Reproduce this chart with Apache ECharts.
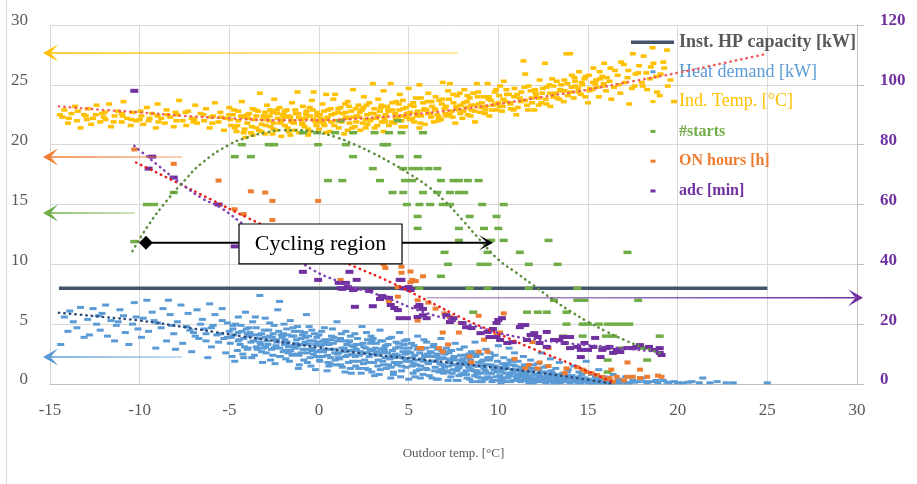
<!DOCTYPE html>
<html><head><meta charset="utf-8">
<script src="https://cdn.jsdelivr.net/npm/echarts@6/dist/echarts.min.js"></script>
<style>html,body{margin:0;padding:0;background:#fff}#c{width:917px;height:484px}</style>
</head><body><div id="c"></div>
<script>
// ---------------- DATA ----------------
const seriesNames = ['Inst. HP capacity [kW]','Heat demand [kW]','Ind. Temp. [°C]','#starts','ON hours [h]','adc [min]'];
const hpCapacity = [[-14.5,8],[25,8]];
const heatDemand = [
[-14.4,3.3],[-14.2,5.6],[-14.0,4.4],[-13.9,6.1],[-13.7,5.2],[-13.5,4.7],[-13.3,6.4],[-13.1,3.9],[-12.9,5.4],[-12.8,4.1],[-12.6,6.3],[-12.4,5.0],[-12.2,4.5],[-12.1,5.9],
[-11.9,6.6],[-11.8,4.0],[-11.6,5.3],[-11.4,3.6],[-11.3,4.9],[-11.1,6.2],[-10.9,5.7],[-10.8,4.3],[-10.6,3.3],[-10.4,5.0],[-10.3,6.8],[-10.1,4.6],
[-9.9,3.9],[-9.8,5.5],[-9.6,7.0],[-9.5,4.4],[-9.3,6.0],[-9.1,3.0],[-9.0,5.1],[-8.8,4.7],[-8.7,6.3],[-8.5,3.6],[-8.4,7.0],[-8.3,5.8],[-8.1,4.2],[-8.0,2.9],
[-7.9,5.2],[-7.7,6.6],[-7.6,3.4],[-7.4,4.8],[-7.3,5.9],[-7.1,2.7],[-7.0,4.3],[-6.8,6.2],[-6.7,3.8],[-6.5,5.4],[-6.4,4.6],[-6.2,2.2],[-6.1,6.7],[-6.0,3.1],
[-5.9,4.9],[-5.8,5.8],[-5.6,3.5],[-5.5,4.2],[-5.4,6.3],[-5.2,2.6],[-5.1,5.1],[-4.9,3.9],[-4.8,4.6],[-4.7,1.9],[-4.5,5.6],[-4.4,3.3],[-4.3,4.4],[-4.1,6.0],[-4.0,2.9],
[-3.9,4.0],[-3.8,3.5],[-3.7,5.2],[-3.6,2.4],[-3.5,4.7],[-3.4,3.8],[-3.3,7.4],[-3.2,4.2],[-3.1,3.0],[-3.0,5.5],[-2.9,3.6],[-2.8,4.5],[-2.7,2.0],[-2.6,3.9],[-2.5,4.9],[-2.4,3.2],[-2.3,6.2],[-2.2,6.9],[-2.1,4.1],[-2.0,2.7],
[-1.9,3.7],[-1.8,4.6],[-1.7,3.1],[-1.6,5.3],[-1.5,2.4],[-1.4,4.0],[-1.3,3.4],[-1.2,4.8],[-1.1,1.6],[-1.0,3.8],[-0.9,2.9],[-0.8,4.3],[-0.7,5.8],[-0.6,3.3],[-0.5,2.2],[-0.4,4.5],[-0.3,3.6],[-0.2,1.2],[-0.1,2.7],[0.0,4.1],
[0.1,3.2],[0.2,2.3],[0.3,4.7],[0.4,3.5],[0.5,1.8],[0.6,2.9],[0.7,4.0],[0.8,3.4],[0.9,2.0],[1.0,5.2],[1.1,2.6],[1.2,3.8],[1.3,1.4],[1.4,3.0],[1.5,4.4],[1.6,2.4],[1.7,3.6],[1.8,0.9],[1.9,2.8],[2.0,4.2],
[2.1,3.3],[2.2,1.9],[2.3,2.7],[2.4,4.8],[2.5,3.1],[2.6,1.3],[2.7,3.7],[2.8,2.3],[2.9,4.0],[3.0,2.9],[3.1,0.7],[3.2,3.4],[3.3,2.0],[3.4,4.5],[3.5,2.6],[3.6,1.6],[3.7,3.2],[3.8,2.2],[3.9,3.8],[4.0,0.5],
[4.1,2.8],[4.2,1.8],[4.3,3.5],[4.4,2.4],[4.5,4.3],[4.6,1.1],[4.7,3.0],[4.8,2.1],[4.9,3.7],[5.0,0.4],[5.1,2.6],[5.2,1.5],[5.3,3.2],[5.4,2.0],[5.5,4.0],[5.6,1.2],[5.7,2.9],[5.8,0.8],[5.9,2.3],[6.0,3.5],
[6.1,1.7],[6.2,2.7],[6.3,0.5],[6.4,3.3],[6.5,1.9],[6.6,2.5],[6.7,1.0],[6.8,3.8],[6.9,2.2],[7.0,1.4],[7.1,3.0],[7.2,0.3],[7.3,2.0],[7.4,2.8],[7.5,1.2],[7.6,3.4],[7.7,1.6],[7.8,0.7],[7.9,2.4],[8.0,1.9],
[8.1,3.1],[8.2,1.1],[8.3,2.2],[8.4,0.4],[8.5,2.7],[8.6,1.5],[8.7,3.5],[8.8,0.9],[8.9,1.8],[9.0,2.5],[9.1,0.2],[9.2,1.3],[9.3,2.9],[9.4,0.6],[9.5,2.0],[9.6,1.6],[9.7,0.3],[9.8,2.4],[9.9,1.0],[10.0,3.2],
[10.1,1.4],[10.2,0.5],[10.3,2.2],[10.4,0.9],[10.5,1.7],[10.6,3.0],[10.7,0.2],[10.8,1.2],[10.9,2.6],[11.0,0.6],[11.1,1.9],[11.2,0.3],[11.3,1.0],[11.4,2.3],[11.5,0.8],[11.6,1.5],[11.7,0.1],[11.8,2.0],[11.9,0.5],[12.0,1.2],
[12.1,0.3],[12.2,1.7],[12.3,0.7],[12.4,2.6],[12.5,0.2],[12.6,1.0],[12.7,1.5],[12.8,0.4],[12.9,2.1],[13.0,0.8],[13.1,0.1],[13.2,1.3],[13.3,0.5],[13.4,1.8],[13.5,0.2],[13.6,0.9],[13.7,3.4],[13.8,0.4],[13.9,1.2],[14.0,0.1],
[14.1,0.7],[14.2,1.5],[14.3,0.3],[14.5,1.0],[14.6,0.1],[14.7,0.5],[14.9,1.9],[15.0,0.2],[15.2,0.8],[15.3,0.1],[15.5,0.4],[15.6,1.2],[15.8,0.2],[15.9,0.6],[16.0,0.1],
[16.2,0.3],[16.4,0.8],[16.5,0.1],[16.7,0.4],[16.9,0.2],[17.1,0.6],[17.3,0.1],[17.5,0.3],[17.8,0.2],[18.0,0.5],[18.3,0.1],[18.6,0.2],[18.9,0.1],[19.2,0.3],[19.5,0.1],[19.8,0.2],
[20.3,0.1],[20.8,0.2],[21.2,0.1],[21.4,0.5],[21.8,0.1],[22.2,0.2],[22.7,0.1],[23.1,0.1],[25.0,0.1],
[-4.95,3.4],[-4.85,2.3],[-4.75,4.1],[-4.65,5.0],[-4.55,2.8],[-4.45,3.7],[-4.35,4.9],[-4.25,2.5],[-4.15,3.1],[-4.05,4.6],[-3.95,3.0],[-3.85,4.3],[-3.75,2.2],[-3.65,3.6],[-3.55,5.6],[-3.45,2.9],[-3.35,4.1],[-3.25,3.3],[-3.15,1.8],[-3.05,4.5],
[-2.95,2.6],[-2.85,3.3],[-2.75,5.1],[-2.65,2.9],[-2.55,4.2],[-2.45,1.7],[-2.35,3.5],[-2.25,4.4],[-2.15,2.3],[-2.05,3.9],[-1.95,5.0],[-1.85,2.8],[-1.75,4.1],[-1.65,1.9],[-1.55,3.2],[-1.45,4.7],[-1.35,2.5],[-1.25,3.7],[-1.15,1.3],[-1.05,4.4],
[-0.95,3.3],[-0.85,2.0],[-0.75,3.9],[-0.65,2.6],[-0.55,4.8],[-0.45,1.5],[-0.35,3.0],[-0.25,4.2],[-0.15,2.3],[-0.05,3.5],[0.05,1.9],[0.15,4.4],[0.25,2.7],[0.35,3.7],[0.45,1.1],[0.55,3.3],[0.65,2.2],[0.75,4.6],[0.85,2.9],[0.95,1.6],
[1.05,3.6],[1.15,2.1],[1.25,4.2],[1.35,2.7],[1.45,1.0],[1.55,3.3],[1.65,1.8],[1.75,4.0],[1.85,2.5],[1.95,3.1],[2.05,1.5],[2.15,3.8],[2.25,2.4],[2.35,0.9],[2.45,3.4],[2.55,2.0],[2.65,4.3],[2.75,1.2],[2.85,2.8],[2.95,3.6],
[3.05,1.8],[3.15,3.0],[3.25,2.4],[3.35,0.8],[3.45,3.6],[3.55,1.9],[3.65,2.8],[3.75,1.3],[3.85,3.3],[3.95,2.1],[4.05,3.9],[4.15,1.0],[4.25,2.5],[4.35,1.6],[4.45,3.1],[4.55,0.6],[4.65,2.2],[4.75,3.6],[4.85,1.4],[4.95,2.7],
[5.05,1.9],[5.15,3.4],[5.25,0.9],[5.35,2.4],[5.45,1.6],[5.55,3.0],[5.65,0.5],[5.75,2.1],[5.85,3.7],[5.95,1.3],[6.05,2.5],[6.15,0.7],[6.25,1.9],[6.35,3.1],[6.45,1.1],[6.55,2.3],[6.65,0.4],[6.75,1.7],[6.85,2.8],[6.95,0.9],
[7.05,2.1],[7.15,1.1],[7.25,2.6],[7.35,0.6],[7.45,1.6],[7.55,2.3],[7.65,0.3],[7.75,1.3],[7.85,2.9],[7.95,0.8],[8.05,1.6],[8.15,2.4],[8.25,0.5],[8.35,1.4],[8.45,2.0],[8.55,0.2],[8.65,1.1],[8.75,2.3],[8.85,0.6],[8.95,1.5],
[9.05,0.9],[9.15,2.0],[9.25,0.4],[9.35,1.6],[9.45,0.9],[9.55,2.6],[9.65,0.2],[9.75,1.2],[9.85,0.6],[9.95,1.9],[10.05,0.3],[10.15,1.0],[10.25,1.7],[10.35,0.2],[10.45,1.3],[10.55,0.6],[10.65,2.0],[10.75,0.9],[10.85,0.3],[10.95,1.5],
[11.05,0.4],[11.15,1.2],[11.25,0.2],[11.35,0.7],[11.45,1.6],[11.55,0.3],[11.65,1.0],[11.75,0.5],[11.85,1.3],[11.95,0.1],[12.05,0.8],[12.15,0.3],[12.25,1.2],[12.35,0.2],[12.45,0.6],[12.55,1.4],[12.65,0.1],[12.75,0.7],[12.85,0.3],[12.95,1.1],
[13.05,0.3],[13.25,0.7],[13.45,0.1],[13.65,0.5],[13.85,1.0],[14.05,0.2],[14.25,0.4],[14.45,0.1],[14.65,0.8],[14.85,0.2],[15.05,0.4],[15.25,0.1],[15.45,0.3],[15.65,0.1],[15.85,0.4],[16.05,0.2],[16.3,0.1],[16.6,0.2],[16.8,0.1],[17.0,0.2],
[-1.92,3.3],[-1.72,2.6],[-1.52,4.0],[-1.32,3.0],[-1.12,2.4],[-0.92,4.1],[-0.72,2.9],[-0.52,3.6],[-0.32,2.5],[-0.12,3.9],[0.08,2.8],[0.28,3.3],[0.48,2.4],[0.68,3.7],[0.88,2.6],[1.08,2.2],[1.28,3.0],[1.48,2.3],[1.68,3.5],[1.88,1.9],
[2.08,2.9],[2.28,3.3],[2.48,1.7],[2.68,2.6],[2.88,3.4],[3.08,2.5],[3.28,1.5],[3.48,2.9],[3.68,2.2],[3.88,1.6],[4.08,2.4],[4.28,3.0],[4.48,1.8],[4.68,2.7],[4.88,1.9],[5.08,2.6],[5.28,1.7],[5.48,2.9],[5.68,1.5],[5.88,2.4],
[6.08,1.8],[6.28,2.6],[6.48,1.4],[6.68,2.1],[6.88,1.6],[7.08,1.0],[7.28,1.8],[7.48,2.2],[7.68,1.1],[7.88,1.7],[8.08,0.9],[8.28,1.8],[8.48,1.2],[8.68,0.7],[8.88,1.5],[9.08,1.9],[9.28,1.1],[9.48,0.5],[9.68,1.4],[9.88,1.2],
[10.08,0.7],[10.28,1.2],[10.48,0.5],[10.68,0.9],[10.88,1.1],[11.08,0.8],[11.28,1.4],[11.48,0.5],[11.68,0.7],[11.88,0.3],[12.08,0.5],[12.28,0.9],[12.48,0.4],[12.68,0.6],[12.88,0.8],[13.08,0.6],[13.28,0.3],[13.48,0.5],[13.68,0.2],[13.88,0.5],
[-1.85,2.1],[-0.65,1.8],[0.55,1.5],[1.75,1.3],[2.95,1.0],[4.15,0.8],[5.35,0.6],[6.55,0.4],[7.75,0.3],[8.95,0.2],[10.15,0.1],[3.55,3.6],[4.75,3.3],[5.95,3.0],[7.15,2.7],[8.35,2.5],[9.55,2.2],[10.75,1.9],[11.95,1.6],
[-2.5,3.0],[-3.0,3.9],[-3.5,3.1],[-4.0,4.2],[-4.5,3.6],[-5.0,4.4],[-2.2,2.3],[-3.2,2.7],[-4.2,2.2],[-5.3,3.8],[-6.3,4.2],[-7.2,4.5],[-8.2,4.9],[-9.2,5.3],[-10.2,5.6],[-11.2,5.2],[-12.3,5.7],
[0.02,2.0],[0.22,3.6],[0.42,2.9],[0.62,1.7],[0.82,3.9],[1.02,2.5],[1.22,1.6],[1.42,3.6],[1.62,2.8],[1.82,3.2],[2.02,2.3],[2.22,1.3],[2.42,2.6],[2.62,3.0],[2.82,1.8],[3.02,3.8],[3.22,2.7],[3.42,1.2],[3.62,3.0],[3.82,2.6],
[4.02,1.4],[4.22,2.2],[4.42,3.4],[4.62,1.5],[4.82,2.5],[5.02,3.0],[5.22,2.2],[5.42,1.1],[5.62,2.6],[5.82,1.9],[6.02,1.2],[6.22,2.3],[6.42,1.9],[6.62,2.9],[6.82,1.2],[7.02,2.5],[7.22,1.5],[7.42,0.9],[7.62,2.0],[7.82,1.4],
[8.02,2.1],[8.22,0.8],[8.42,1.7],[8.62,2.5],[8.82,1.1],[9.02,0.5],[9.22,1.6],[9.42,2.2],[9.62,0.9],[9.82,1.5],[10.02,1.1],[10.22,0.4],[10.42,1.5],[10.62,0.7],[10.82,1.6],[11.02,1.1],[11.22,0.6],[11.42,0.9],[11.62,0.3],[11.82,1.0],
[12.02,0.2],[12.22,0.6],[12.42,1.0],[12.62,0.4],[12.82,0.2],[13.02,0.9],[13.22,0.4],[13.42,0.8],[13.62,0.3],[13.82,0.7],[14.02,0.5],[14.22,0.2],[14.42,0.6],[14.62,0.3],[14.82,0.5],[15.02,0.1],[15.22,0.3],[15.42,0.6],[15.62,0.2],[15.82,0.1],
[16.1,0.3],[16.4,0.15],[16.7,0.25],[17.2,0.1],[17.6,0.15],[18.2,0.2],[18.8,0.3],[19.4,0.15],[20.0,0.1],[20.6,0.15],
[-2.98,3.1],[-2.78,4.0],[-2.58,2.4],[-2.38,3.7],[-2.18,3.0],[-1.98,4.2],[-1.78,3.5],[-1.58,2.8],[-1.38,4.4],[-1.18,3.2],[-0.98,2.6],[-0.78,3.5],[-0.58,4.0],[-0.38,2.8],[-0.18,3.3],
[-6.9,4.0],[-6.6,5.0],[-6.3,3.6],[-6.0,4.7],[-5.7,4.1],[-5.4,5.3],[-5.1,3.9],[-4.8,4.9],[-4.5,4.3],[-4.2,3.8],[-3.9,4.7],[-3.6,4.1],[-3.3,3.5]
];
const indoorTemp = [
[-14.3,22.3],[-14.2,22.9],[-14.0,21.8],[-13.8,22.6],[-13.6,23.2],[-13.5,22.0],[-13.3,21.4],[-13.1,22.5],[-12.9,23.0],[-12.7,21.7],[-12.6,22.2],[-12.4,23.3],[-12.2,21.9],[-12.1,22.6],
[-11.9,22.1],[-11.7,23.4],[-11.6,21.5],[-11.4,22.4],[-11.2,22.8],[-11.0,21.9],[-10.9,23.6],[-10.7,22.2],[-10.5,21.6],[-10.4,22.7],[-10.2,22.0],
[-9.9,22.4],[-9.8,21.7],[-9.6,23.1],[-9.5,22.0],[-9.3,22.6],[-9.1,21.4],[-9.0,23.4],[-8.8,22.2],[-8.6,21.8],[-8.5,22.9],[-8.3,22.3],[-8.1,21.5],
[-7.9,22.5],[-7.8,23.7],[-7.6,22.0],[-7.4,21.6],[-7.3,22.8],[-7.1,22.2],[-6.9,23.3],[-6.8,21.8],[-6.6,22.6],[-6.4,22.0],[-6.3,23.0],[-6.1,21.4],
[-5.9,22.4],[-5.8,23.5],[-5.6,21.9],[-5.5,22.7],[-5.3,21.2],[-5.2,22.2],[-5.0,23.1],[-4.9,21.6],[-4.8,22.5],[-4.6,21.1],[-4.5,22.0],[-4.3,23.6],[-4.2,22.3],[-4.1,20.6],[-4.0,21.8],
[-3.9,22.6],[-3.8,21.0],[-3.7,23.0],[-3.6,22.1],[-3.5,21.4],[-3.4,22.8],[-3.3,24.3],[-3.2,21.7],[-3.1,22.4],[-3.0,20.9],[-2.9,23.3],[-2.8,22.0],[-2.7,21.5],[-2.6,22.7],[-2.5,23.8],[-2.4,21.2],[-2.3,22.2],[-2.2,23.1],[-2.1,20.7],[-2.0,22.5],
[-1.9,21.6],[-1.8,22.9],[-1.7,21.1],[-1.6,22.3],[-1.5,23.5],[-1.4,21.8],[-1.3,22.6],[-1.2,24.4],[-1.1,21.0],[-1.0,22.1],[-0.9,23.2],[-0.8,21.5],[-0.7,22.8],[-0.6,20.8],[-0.5,22.4],[-0.4,23.7],[-0.3,24.4],[-0.2,21.9],[-0.1,22.7],[0.0,21.3],
[0.1,22.2],[0.2,23.4],[0.3,21.6],[0.4,24.2],[0.5,22.9],[0.6,21.1],[0.7,22.5],[0.8,23.8],[0.9,24.2],[1.0,22.0],[1.1,21.4],[1.2,23.1],[1.3,22.6],[1.4,20.9],[1.5,22.3],[1.6,23.6],[1.7,21.8],[1.8,22.8],[1.9,24.6],[2.0,21.5],
[2.1,22.4],[2.2,23.3],[2.3,21.2],[2.4,22.9],[2.5,24.0],[2.6,22.1],[2.7,21.7],[2.8,23.5],[2.9,22.6],[3.0,25.1],[3.1,21.4],[3.2,22.2],[3.3,23.8],[3.4,22.8],[3.5,21.9],[3.6,24.5],[3.7,22.5],[3.8,23.2],[3.9,21.6],[4.0,25.1],
[4.1,22.9],[4.2,21.8],[4.3,23.6],[4.4,22.3],[4.5,24.2],[4.6,22.0],[4.7,23.0],[4.8,21.5],[4.9,22.6],[5.0,24.7],[5.1,23.3],[5.2,22.2],[5.3,21.9],[5.4,23.9],[5.5,22.8],[5.6,25.0],[5.7,22.4],[5.8,23.5],[5.9,21.7],[6.0,22.9],
[6.1,24.3],[6.2,22.6],[6.3,23.2],[6.4,21.9],[6.5,24.0],[6.6,22.5],[6.7,23.7],[6.8,22.1],[6.9,25.2],[7.0,23.0],[7.1,22.4],[7.2,24.5],[7.3,25.1],[7.4,22.8],[7.5,23.5],[7.6,21.8],[7.7,24.1],[7.8,22.9],[7.9,23.3],[8.0,22.2],
[8.1,24.6],[8.2,23.1],[8.3,22.5],[8.4,23.9],[8.5,22.9],[8.6,24.3],[8.7,21.9],[8.8,25.1],[8.9,23.4],[9.0,22.7],[9.2,24.0],[9.3,23.2],[9.4,25.1],[9.5,22.4],[9.6,23.7],[9.8,24.4],[9.9,22.9],[10.0,23.5],
[10.1,24.9],[10.2,22.8],[10.3,25.3],[10.4,23.6],[10.6,24.2],[10.7,23.0],[10.9,24.7],[11.0,22.5],[11.2,23.9],[11.4,27.0],[11.5,25.9],[11.6,23.3],[11.8,24.5],[12.0,22.9],
[12.1,24.0],[12.3,25.4],[12.4,23.5],[12.6,26.8],[12.7,24.8],[12.9,23.2],[13.0,25.5],[13.2,24.3],[13.4,23.8],[13.5,25.0],[13.7,24.5],[13.8,27.6],[14.0,27.6],[14.1,25.8],[14.2,23.9],
[14.3,24.9],[14.5,26.1],[14.6,24.2],[14.8,25.5],[15.0,23.5],[15.1,24.7],[15.3,26.4],[15.4,25.1],[15.6,24.0],[15.8,25.7],[15.9,26.8],[16.0,24.5],
[16.2,25.3],[16.3,23.8],[16.5,26.2],[16.7,25.0],[16.8,24.3],[17.0,26.7],[17.2,25.6],[17.3,23.4],[17.5,27.6],[17.6,24.9],[17.8,26.0],[18.0,25.2],[18.1,27.4],[18.3,24.6],[18.5,26.5],[18.6,28.1],[18.8,25.7],[19.0,24.1],[19.2,26.9],[19.4,27.9],[19.6,25.4],[19.8,23.6],
[-4.95,22.1],[-4.75,22.9],[-4.55,21.6],[-4.35,22.4],[-4.15,21.3],[-3.95,22.2],[-3.75,21.5],[-3.55,22.9],[-3.35,21.2],[-3.15,22.1],[-2.95,21.6],[-2.75,22.4],[-2.55,21.3],[-2.35,22.9],[-2.15,21.8],[-1.95,22.3],[-1.75,21.4],[-1.55,22.0],[-1.35,21.2],[-1.15,22.6],
[-0.95,21.7],[-0.75,22.2],[-0.55,21.1],[-0.35,22.9],[-0.15,21.6],[0.05,22.5],[0.25,21.8],[0.45,22.1],[0.65,23.0],[0.85,21.6],[1.05,22.7],[1.25,21.9],[1.45,23.4],[1.65,22.2],[1.85,21.4],[2.05,23.0],[2.25,22.3],[2.45,21.8],[2.65,23.3],[2.85,22.0],
[3.05,22.6],[3.25,21.6],[3.45,23.1],[3.65,22.2],[3.85,22.9],[4.05,21.9],[4.25,22.6],[4.45,23.4],[4.65,22.4],[4.85,23.1],[5.05,22.1],[5.25,23.5],[5.45,22.6],[5.65,21.8],[5.85,22.9],[6.05,23.6],[6.25,22.3],[6.45,23.0],[6.65,22.0],[6.85,23.4],
[7.05,22.6],[7.25,23.8],[7.45,22.3],[7.65,23.2],[7.85,24.3],[8.05,22.8],[8.25,23.6],[8.45,22.4],[8.65,23.3],[8.85,24.0],[9.05,23.1],[9.25,22.6],[9.45,23.8],[9.65,22.9],[9.85,23.4],[10.05,24.1],[10.25,23.2],[10.45,24.6],[10.65,23.5],[10.85,22.9],
[11.05,24.2],[11.25,23.6],[11.45,24.8],[11.65,22.9],[11.85,23.9],[12.05,24.6],[12.25,23.3],[12.45,24.3],[12.65,23.8],[12.85,25.0],[13.05,24.0],[13.25,25.3],[13.45,24.6],[13.65,23.6],[13.85,25.1],[14.05,24.4],[14.25,25.6],[14.45,24.7],[14.65,25.2],[14.85,24.0],
[15.05,25.8],[15.25,24.6],[15.45,25.4],[15.65,26.1],[15.85,24.9],[16.05,25.6],[16.25,26.4],[16.45,24.8],[16.65,25.8],[16.85,26.9],[17.05,25.2],[17.25,26.2],[17.45,24.7],[17.65,25.9],[17.85,26.6],[18.05,24.9],[18.25,26.0],[18.45,25.5],[18.65,26.8],[18.85,24.4],
[19.05,25.9],[19.25,26.4],[19.45,24.9],[-14.45,22.5],[-13.95,22.2],[-13.45,22.8],[-12.95,22.1],[-12.45,22.5],[-11.95,22.7],[-11.45,21.9],[-10.95,22.4],[-10.45,22.1],[-9.95,22.8],[-9.45,22.2],[-8.95,21.9],[-8.45,22.5],[-7.95,22.0],[-7.45,22.7],[-6.95,22.1],[-6.45,22.5],[-5.95,21.8],[-5.45,22.3],
[-2.92,22.3],[-2.72,22.9],[-2.52,21.8],[-2.32,22.6],[-2.12,22.0],[-1.92,22.8],[-1.72,22.4],[-1.52,21.9],[-1.32,22.9],[-1.12,22.3],[-0.92,21.8],[-0.72,22.5],[-0.52,23.1],[-0.32,22.1],[-0.12,22.4],[0.08,21.9],[0.28,22.8],[0.48,22.3],[0.68,21.9],[0.88,22.6],
[1.08,23.0],[1.28,22.1],[1.48,22.7],[1.68,23.2],[1.88,22.3],[2.08,21.9],[2.28,22.7],[2.48,23.1],[2.68,22.5],[2.88,22.1],[3.08,23.0],[3.28,22.4],[3.48,23.3],[3.68,21.9],[3.88,22.8],[4.08,23.5],[4.28,22.2],[4.48,22.9],[4.68,23.7],[4.88,22.3],
[5.08,22.7],[5.28,23.2],[5.48,22.4],[5.68,23.9],[5.88,23.0],[6.08,22.6],[6.28,23.6],[6.48,22.9],[6.68,22.3],[6.88,23.8],[7.08,23.2],[7.28,22.5],[7.48,24.2],[7.68,23.0],[7.88,22.6],[8.08,23.5],[8.28,24.1],[8.48,23.3],[8.68,22.8],[8.88,24.4],
[9.08,23.5],[9.28,22.9],[9.48,24.0],[9.68,23.3],[9.88,24.6],[10.08,23.2],[10.28,23.8],[10.48,24.2],[10.68,23.4],[10.88,24.0],[11.08,23.1],[11.28,24.4],[11.48,23.7],[11.68,24.9],[11.88,23.5],[12.08,24.3],[12.28,23.9],[12.48,24.7],[12.68,23.4],[12.88,24.3],
[13.08,24.9],[13.28,23.9],[13.48,24.5],[13.68,25.4],[13.88,24.1],[14.08,24.8],[14.28,25.3],[14.48,24.4],[14.68,25.0],[14.88,25.7],[15.08,24.5],[15.28,25.2],[15.48,24.8],[15.68,25.5],[15.88,25.1],
[-13.0,22.4],[-12.0,22.3],[-11.0,22.6],[-10.0,22.1],[-9.0,22.4],[-8.0,22.7],[-7.0,21.9],[-6.0,22.3],[-5.0,22.5],[-4.5,22.8],[-4.0,22.5],[-3.5,22.4],[-3.0,22.7],
[-4.7,21.4],[-4.2,21.0],[-3.7,20.8],[-3.2,21.1],[-2.6,20.9],[-1.6,20.8],[-0.6,21.3],[0.4,21.0],[1.6,21.2],[2.6,21.4],[3.6,21.1],[4.6,21.5],[5.6,21.4]
];
const starts = [
[-10.3,11.9],[-9.6,15],[-9.2,15],[-8.1,16],[-4.7,19],[-3.8,19],[-4.3,20],[-2.8,20],[-2.5,20],[-0.05,20],[1.5,20],[3.6,20],[3.8,20],
[-0.9,21],[-0.1,21],[0.9,21],[1.9,21],[3.1,21],[3.9,21],[4.6,21],[5.8,21],[1.2,22],[4.4,22],
[1.9,19],[4.5,19],[5.5,19],
[3.0,18],[4.7,18],[5.2,18],[5.6,18],[6.1,18],[6.6,18],
[0.5,17],[1.3,17],[3.4,17],[4.8,17],[5.2,17],[6.8,17],[7.5,17],[7.8,17],[8.3,17],[8.9,17],
[4.1,16],[4.7,16],[5.8,16],[6.6,16],[7.3,16],[7.8,16],[8.1,16],
[4.9,15],[5.6,15],[6.2,15],[6.9,15],[7.3,15],[9.1,15],[10.3,15],
[5.5,14],[8.4,14],[9.9,14],
[5.5,13],[7.8,13],[9.2,13],[10.0,13],
[7.8,12],[9.6,12],[10.3,12],[12.8,12],
[7.0,11],[9.4,11],[11.2,11],[17.2,11],
[7.2,10],[9.0,10],[9.4,10],[11.7,10],[13.3,10],
[6.8,9],
[5.6,8],[8.4,8],[9.4,8],[11.7,8],[14.4,8],
[13.1,7],[14.4,7],[14.8,7],[17.8,7],
[8.6,6],[11.6,6],[12.2,6],[12.7,6],[13.8,6],
[13.8,5],[14.7,5],[15.0,5],[15.6,5],[16.1,5],[16.5,5],[16.9,5],[17.3,5],
[13.6,4],[14.7,4],[16.0,4],[16.4,4],[19.0,4],
[15.8,3],[16.1,3],[16.9,3],[17.3,3],[18.1,3],
[16.1,2],[18.3,2],[16.1,1]
];
const onHours = [
[-10.3,19.6],[-8.1,18.4],[-5.6,17.0],[-3.8,16.1],[-3.0,16.0],[-2.6,15.3],[-0.05,15.3],[-4.7,14.6],[-4.2,14.2],[-2.6,13.7],
[3.6,10.0],[3.7,9.7],[4.6,9.8],[4.6,9.3],[5.1,9.4],[5.8,9.0],[5.2,8.7],[5.4,8.6],[1.2,8.7],[4.4,8.1],[5.1,8.5],[4.8,8.0],
[4.4,7.3],[5.5,7.0],[3.9,6.9],[6.1,6.8],[6.5,6.3],[7.0,5.9],[7.3,5.6],[5.5,5.3],[8.9,5.7],[10.3,5.9],[7.9,5.1],
[6.9,4.3],[7.8,4.3],[9.2,3.7],[9.9,4.1],[10.1,4.3],[5.7,3.0],[6.7,3.0],[7.2,3.3],[8.9,2.7],[9.4,2.7],[8.4,2.3],[8.5,1.8],
[10.9,2.1],[11.7,1.6],[11.5,1.3],[12.2,1.3],[12.3,1.8],[12.8,1.5],[11.9,3.5],[12.8,3.0],[13.8,1.3],[13.7,0.9],
[14.4,1.4],[14.7,1.2],[14.9,1.0],[15.2,0.9],[15.5,0.75],[15.8,0.6],[16.2,0.5],[16.0,0.4],[16.4,0.2],[16.6,0.6],[17.0,0.3],
[17.2,0.6],[17.2,1.8],[17.9,1.2],[17.5,0.6],[17.9,0.5],[18.3,0.6],[18.9,0.7],[19.1,0.6],[16.3,1.2],[5.6,3.0],[6.9,2.7]
];
const adcMin = [
[-10.3,98],[-9.3,76],[-9.5,72],[-8.1,69],[-5.6,60],[-4.7,46],[-0.9,37.5],[-0.05,34.8],[1.1,33.8],[1.7,37.5],[2.1,34.8],[4.6,34.8],[5.0,32.4],
[1.5,33.8],[1.6,32.4],[2.0,31.8],[1.3,31.8],[2.8,31.1],[4.5,34.8],[4.7,32],[5.1,31.4],[3.6,29],[3.9,28.8],[3.4,28.4],[2.0,25.8],
[4.0,26.4],[4.2,25.4],[4.4,24.7],[5.5,25.8],[5.6,26.4],[5.8,25.1],[4.9,22],[4.5,22],[5.5,22.4],[5.8,23],[6.0,22],[7.1,23],[7.5,22],
[7.3,20.7],[8.0,20.4],[8.2,19],[8.5,18.7],[9.0,17],[9.4,17.4],[9.5,15.7],[10.0,21.4],[10.2,22],[11.2,19],[11.5,19.7],[9.9,15.7],
[10.1,14.7],[10.5,13.7],[10.8,14],[11.6,14.7],[12.2,15.7],[12.3,13.7],[12.7,12.4],[13.1,14.7],[13.6,15.7],[14.0,15.7],[14.4,12.4],
[14.6,11.4],[14.8,13.7],[15.3,12.4],[3.0,26],[3.5,29.4],[9.7,18.4],[9.9,20.4],[11.3,19.7],[11.8,16.4],[12.0,17],[12.7,17.4],
[13.4,14.7],[13.7,13.7],[14.0,12],[15.0,11.4],[15.8,11.4],[16.2,12.4],[16.6,11.4],[17.2,12],[17.5,12],[17.9,13],[18.4,12.4],
[19.0,10.4],[16.4,10.4],[15.7,9.0],[14.6,9.0],[19.0,12],[15.4,15.4],[16.0,12.0],[16.8,10.7],[17.7,12.4],[18.7,11.4],[19.1,9.7],[1.2,32],[1.9,31.4]
];
// trend lines
const tempTrend = [[-14.5,23.2],[-12,22.9],[-10,22.7],[-7.5,22.4],[-5,22.2],[-2.5,22.05],[0,22.05],[2.5,22.2],[5,22.5],[7.5,22.9],[10,23.4],[12.5,24.0],[15,24.6],[17.5,25.3],[20,26.0],[22.5,26.8],[25,27.6]];
const heatTrend = [[-14.5,5.95],[-12,5.6],[-10,5.3],[-7.5,4.75],[-5,4.15],[-2.5,3.6],[0,3.05],[2.5,2.55],[5,2.15],[7.5,1.75],[10,1.35],[12.5,0.9],[15,0.35],[16.3,0.05]];
const onTrend = [[-10.2,18.5],[-8,16.9],[-6,15.4],[-4,13.9],[-2,12.5],[0,11.1],[2,9.8],[4,8.5],[6,7.0],[8,5.5],[10,4.2],[12,2.9],[14,1.7],[16,0.4],[16.5,0.1]];
const adcTrend = [[-10.3,79.6],[-9,73.2],[-7.7,67],[-6.5,62],[-5.5,59],[-4,52.5],[-2,45],[-0.3,38],[1,34.5],[1.9,32.4],[3,30.4],[4,28.3],[5.5,24.7],[7,22],[8.5,19.7],[10.5,16.4],[12.5,14.6],[14.5,13.2],[16.1,12.4],[17.5,11.6],[19,10.7]];
const startsTrend = [[-10.4,11.1],[-9.5,13.3],[-8.5,15.3],[-7.5,17.0],[-6.5,18.5],[-5,20.0],[-4,20.6],[-3,21.0],[-2,21.2],[-1,21.2],[0,21.0],[1,20.6],[2,20.0],[3,19.3],[4,18.5],[5,17.6],[6,16.6],[7,15.3],[8,13.7],[9,12.0],[10,10.4],[11,9.3],[12,8.2],[13,7.1],[14,6.1],[15,5.2],[16,4.4],[17,3.7],[18,3.1],[19,2.6]];

// ---------------- CHART ----------------
const FONT = '"Liberation Serif","DejaVu Serif",serif';
const C = {hp:'#44546A', heat:'#5B9BD5', temp:'#FFC000', starts:'#70AD47', on:'#ED7D31', adc:'#7030A0', grid:'#D9D9D9', text:'#595959'};
const DASH = 'path://M0,0M43,14M19.5,5.5h5v3h-5z';
const LINEICON = 'path://M0,0M43,14M0,5.5h43v3.5h-43z';
const chart = echarts.init(document.getElementById('c'), null, {renderer:'canvas'});

function scatter(name, data, color, size, yAxisIndex, z) {
  return {name, type:'scatter', data, yAxisIndex, symbol:'rect', symbolSize:size, itemStyle:{color, opacity:1}, z, silent:true};
}
function trend(name, data, color, yAxisIndex) {
  return {name, type:'line', data, yAxisIndex, smooth:true, symbol:'none', z:10, silent:true,
    lineStyle:{color, width:2.5, type:[0.5,5], cap:'round'}};
}

chart.setOption({
  animation:false,
  grid:{left:50, right:60, top:25, bottom:100},
  xAxis:{type:'value', min:-15, max:30, interval:5,
    axisLine:{show:true, lineStyle:{color:'#BFBFBF'}}, axisTick:{show:false},
    splitLine:{show:true, lineStyle:{color:C.grid, width:1}},
    axisLabel:{color:C.text, fontSize:17, fontFamily:FONT, margin:18},
    name:'Outdoor temp. [°C]', nameLocation:'middle', nameGap:63,
    nameTextStyle:{color:C.text, fontSize:13, fontFamily:FONT}},
  yAxis:[
    {type:'value', min:0, max:30, interval:5, axisLine:{show:false}, axisTick:{show:false},
     splitLine:{show:true, lineStyle:{color:C.grid, width:1}},
     axisLabel:{color:C.text, fontSize:17, fontFamily:FONT, margin:22, verticalAlign:'bottom', lineHeight:8}},
    {type:'value', min:0, max:120, interval:20, position:'right',
     axisLine:{show:true, lineStyle:{color:'#BFBFBF'}}, axisTick:{show:true, length:7, lineStyle:{color:'#BFBFBF'}},
     splitLine:{show:false},
     axisLabel:{color:C.adc, fontSize:17, fontWeight:'bold', fontFamily:FONT, margin:23, verticalAlign:'bottom', lineHeight:8}}
  ],
  legend:{orient:'vertical', left:626, top:28, itemWidth:43, itemHeight:14, itemGap:11.8, selectedMode:false,
    textStyle:{fontFamily:FONT, lineHeight:18},
    data:[
      {name:seriesNames[0], icon:LINEICON, textStyle:{color:C.text, fontSize:18, fontWeight:'bold'}},
      {name:seriesNames[1], icon:DASH, textStyle:{color:C.heat, fontSize:18}},
      {name:seriesNames[2], icon:DASH, textStyle:{color:C.temp, fontSize:18}},
      {name:seriesNames[3], icon:DASH, textStyle:{color:C.starts, fontSize:16, fontWeight:'bold'}},
      {name:seriesNames[4], icon:DASH, textStyle:{color:C.on, fontSize:16, fontWeight:'bold'}},
      {name:seriesNames[5], icon:DASH, textStyle:{color:C.adc, fontSize:16, fontWeight:'bold'}}
    ]},
  series:[
    {name:seriesNames[0], type:'line', data:hpCapacity, symbol:'none', z:1, silent:true,
     lineStyle:{color:C.hp, width:3.5}, itemStyle:{color:C.hp}},
    scatter(seriesNames[1], heatDemand, C.heat, [7,3], 0, 2),
    scatter(seriesNames[2], indoorTemp, C.temp, [6,3.5], 0, 3),
    scatter(seriesNames[3], starts, C.starts, [8,3.5], 0, 4),
    scatter(seriesNames[4], onHours, C.on, [6,4], 0, 5),
    scatter(seriesNames[5], adcMin, C.adc, [8,4], 1, 6),
    trend('tempTrend', tempTrend, '#F0605D', 0),
    trend('heatTrend', heatTrend, '#2F4A7A', 0),
    trend('onTrend', onTrend, '#E8201B', 0),
    trend('adcTrend', adcTrend, '#7E3FB0', 1),
    trend('startsTrend', startsTrend, '#5B8F3C', 0)
  ]
});

// ---------------- ANNOTATIONS ----------------
const arrowDefs = [
  {from:[7.75,27.65], to:[-15.39,27.65], axis:0, color:C.temp},
  {from:[-7.64,18.96], to:[-15.39,18.96], axis:0, color:C.on},
  {from:[-10.26,14.3], to:[-15.39,14.3], axis:0, color:C.starts},
  {from:[-7.64,2.26], to:[-15.39,2.26], axis:0, color:C.heat},
  {from:[6.0,28.8], to:[30.34,28.8], axis:1, color:C.adc}
];
const cycling = {diamond:[-9.65,11.8], boxFrom:[-4.46,13.37], boxTo:[4.63,10.03], tip:[9.71,11.8], label:'Cycling region'};

function px(p, axis) { return chart.convertToPixel({xAxisIndex:0, yAxisIndex:axis||0}, p); }
function stealth(tip, dir, L, W, N, color) {
  return {type:'polygon', z:100, shape:{points:[[tip[0],tip[1]],[tip[0]-dir*L,tip[1]-W],[tip[0]-dir*N,tip[1]],[tip[0]-dir*L,tip[1]+W]]},
    style:{fill:color}};
}
const g = [];
g.push({type:'line', shape:{x1:6.5,y1:0,x2:6.5,y2:484}, style:{stroke:'#D9D9D9', lineWidth:1}, z:0});
arrowDefs.forEach(a => {
  const f = px(a.from, a.axis), t = px(a.to, a.axis);
  const dir = t[0] < f[0] ? -1 : 1;
  g.push({type:'line', z:99, shape:{x1:f[0], y1:f[1], x2:t[0]-dir*8, y2:t[1]},
    style:{lineWidth:1.5, stroke:new echarts.graphic.LinearGradient(f[0] < t[0] ? 0 : 1, 0, f[0] < t[0] ? 1 : 0, 0,
      [{offset:0, color:echarts.color.modifyAlpha(a.color, 0.45)}, {offset:1, color:a.color}])}});
  g.push(stealth(t, dir, 15, 8.5, 7.5, a.color));
});
const d = px(cycling.diamond), b1 = px(cycling.boxFrom), b2 = px(cycling.boxTo), tp = px(cycling.tip);
g.push({type:'line', z:101, shape:{x1:d[0], y1:d[1], x2:b1[0], y2:d[1]}, style:{stroke:'#000', lineWidth:2}});
g.push({type:'line', z:101, shape:{x1:b2[0], y1:d[1], x2:tp[0]-6, y2:d[1]}, style:{stroke:'#000', lineWidth:2}});
g.push({type:'polygon', z:102, shape:{points:[[d[0]-7,d[1]],[d[0],d[1]-7],[d[0]+7,d[1]],[d[0],d[1]+7]]}, style:{fill:'#000'}});
g.push(stealth([tp[0], d[1]], 1, 14, 7.5, 6, '#000'));
g.push({type:'rect', z:103, shape:{x:b1[0], y:b1[1], width:b2[0]-b1[0], height:b2[1]-b1[1]}, style:{fill:'#fff', stroke:'#000', lineWidth:1.2}});
g.push({type:'text', z:104, x:(b1[0]+b2[0])/2, y:(b1[1]+b2[1])/2,
  style:{text:cycling.label, fill:'#000', font:'22px ' + FONT, align:'center', verticalAlign:'middle'}});
chart.setOption({graphic:g});
</script>
</body></html>
